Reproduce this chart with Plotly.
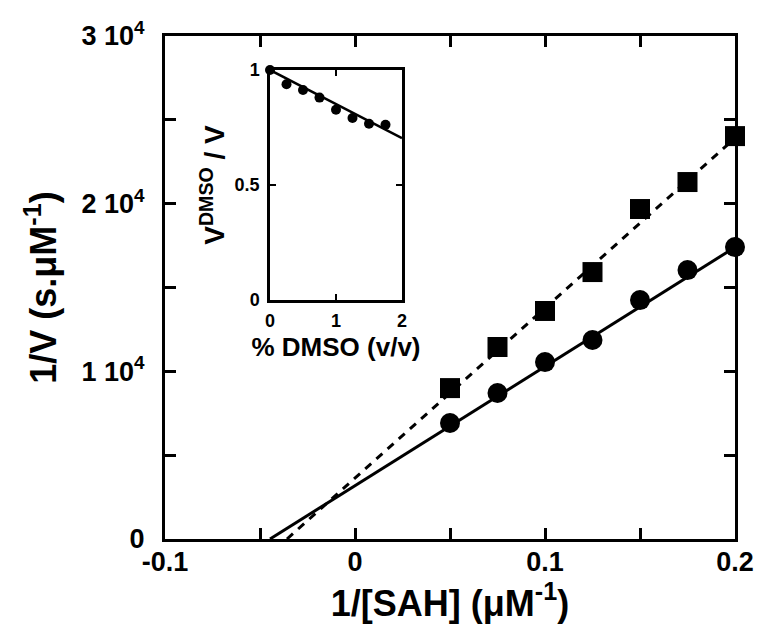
import plotly.graph_objects as go

# ---- data ----
inv_sah = [0.05, 0.075, 0.1, 0.125, 0.15, 0.175, 0.2]
inv_v_circle = [6920, 8710, 10550, 11870, 14250, 16040, 17410]
inv_v_square = [9000, 11450, 13600, 15920, 19680, 21290, 24030]
solid_fit = [71100, 3180]     # slope, intercept (circles)
dashed_fit = [101400, 3630]   # slope, intercept (squares)

dmso_pct = [0, 0.25, 0.5, 0.75, 1.0, 1.25, 1.5, 1.75]
v_ratio = [1.0, 0.938, 0.913, 0.880, 0.827, 0.791, 0.766, 0.762]
inset_fit = [-0.148, 1.0]     # slope, intercept

x_ticks = [-0.1, -0.05, 0, 0.05, 0.1, 0.15, 0.2]
x_ticktext = ["-0.1", "", "0", "", "0.1", "", "0.2"]
y_ticks = [0, 5000, 10000, 15000, 20000, 25000, 30000]
y_ticktext = ["0", "", "1 10<sup>4</sup>", "", "2 10<sup>4</sup>", "", "3 10<sup>4</sup>"]
inset_x_ticks = [0, 1, 2]
inset_x_ticktext = ["0", "1", "2"]
inset_y_ticks = [0, 0.5, 1]
inset_y_ticktext = ["0", "0.5", "1"]

FONT = "Liberation Sans, Arial, sans-serif"
X_RANGE = [-0.1, 0.2]
Y_RANGE = [0, 30000]
INSET_X_RANGE = [0, 2]
INSET_Y_RANGE = [0, 1]


def fit_line(fit, x_end, x_start=None):
    m, b = fit
    xs = -b / m if x_start is None else x_start
    return [xs, x_end], [m * xs + b, m * x_end + b]


fig = go.Figure()

lx, ly = fit_line(solid_fit, X_RANGE[1])
fig.add_trace(go.Scatter(x=lx, y=ly, mode="lines",
                         line=dict(color="black", width=3), showlegend=False))
lx, ly = fit_line(dashed_fit, X_RANGE[1])
fig.add_trace(go.Scatter(x=lx, y=ly, mode="lines",
                         line=dict(color="black", width=3, dash="8px,7px"),
                         showlegend=False))
fig.add_trace(go.Scatter(x=inv_sah, y=inv_v_circle, mode="markers",
                         marker=dict(symbol="circle", size=20, color="black"),
                         cliponaxis=False, showlegend=False))
fig.add_trace(go.Scatter(x=inv_sah, y=inv_v_square, mode="markers",
                         marker=dict(symbol="square", size=20, color="black"),
                         cliponaxis=False, showlegend=False))

# inset
ix, iy = fit_line(inset_fit, INSET_X_RANGE[1], x_start=INSET_X_RANGE[0])
fig.add_trace(go.Scatter(x=ix, y=iy, mode="lines", xaxis="x2", yaxis="y2",
                         line=dict(color="black", width=2.5), showlegend=False))
fig.add_trace(go.Scatter(x=dmso_pct, y=v_ratio, mode="markers", xaxis="x2", yaxis="y2",
                         marker=dict(symbol="circle", size=10, color="black"),
                         cliponaxis=False, showlegend=False))

tick_font = dict(family=FONT, size=27, color="black", weight="bold")
inset_tick_font = dict(family=FONT, size=18, color="black", weight="bold")
title_font = dict(family=FONT, size=36, color="black", weight="bold")

main_common = dict(showgrid=False, zeroline=False, showline=True, linecolor="black",
                   linewidth=3, ticks="inside", ticklen=11, tickwidth=2.5,
                   tickcolor="black", automargin=False)
inset_common = dict(showgrid=False, zeroline=False, showline=True, linecolor="black",
                    linewidth=2.5, ticks="inside", ticklen=6, tickwidth=2,
                    tickcolor="black", automargin=False)

INSET_XDOM = [(270 - 165) / 570, (402 - 165) / 570]
INSET_YDOM = [(539 - 300) / 503, (539 - 70) / 503]

fig.update_layout(
    width=759, height=631,
    margin=dict(l=165, r=24, t=36, b=92),
    paper_bgcolor="white", plot_bgcolor="white",
    font=dict(family=FONT, color="black", weight="bold"),
    xaxis=dict(
        range=X_RANGE, tickmode="array", tickvals=x_ticks, ticktext=x_ticktext,
        tickfont=tick_font, ticklabelstandoff=-3,
        title=dict(text="1/[SAH] (μM<sup>-1</sup>)", standoff=6, font=title_font),
        **main_common,
    ),
    yaxis=dict(
        range=Y_RANGE, tickmode="array", tickvals=y_ticks, ticktext=y_ticktext,
        tickfont=tick_font, ticklabelstandoff=12,
        title=dict(text="1/V (s.μM<sup>-1</sup>)", standoff=14, font=title_font),
        **main_common,
    ),
    xaxis3=dict(range=X_RANGE, tickmode="array", tickvals=x_ticks,
                overlaying="x", side="top", anchor="y", showticklabels=False,
                **main_common),
    yaxis3=dict(range=Y_RANGE, tickmode="array", tickvals=y_ticks,
                overlaying="y", side="right", anchor="x", showticklabels=False,
                **main_common),
    xaxis2=dict(
        domain=INSET_XDOM, anchor="y2",
        range=INSET_X_RANGE, tickmode="array", tickvals=inset_x_ticks,
        ticktext=inset_x_ticktext, tickfont=inset_tick_font, ticklabelstandoff=3,
        title=dict(text="% DMSO (v/v)", standoff=8,
                   font=dict(family=FONT, size=26, color="black", weight="bold")),
        **inset_common,
    ),
    yaxis2=dict(
        domain=INSET_YDOM, anchor="x2",
        range=INSET_Y_RANGE, tickmode="array", tickvals=inset_y_ticks,
        ticktext=inset_y_ticktext, tickfont=inset_tick_font, ticklabelstandoff=4,
        title=dict(text="V<sup>DMSO</sup> / V", standoff=2,
                   font=dict(family=FONT, size=28, color="black", weight="bold")),
        **inset_common,
    ),
    xaxis4=dict(domain=INSET_XDOM, range=INSET_X_RANGE, tickmode="array",
                tickvals=inset_x_ticks, overlaying="x2", side="top", anchor="y2",
                showticklabels=False, **inset_common),
    yaxis4=dict(domain=INSET_YDOM, range=INSET_Y_RANGE, tickmode="array",
                tickvals=inset_y_ticks, overlaying="y2", side="right", anchor="x2",
                showticklabels=False, **inset_common),
)

# invisible anchor traces so the mirrored axes are drawn
fig.add_trace(go.Scatter(x=[None], y=[None], xaxis="x3", yaxis="y3",
                         showlegend=False, hoverinfo="skip"))
fig.add_trace(go.Scatter(x=[None], y=[None], xaxis="x4", yaxis="y4",
                         showlegend=False, hoverinfo="skip"))

fig.write_html("out.html", config={"displayModeBar": False},
               post_script="document.body.style.margin='0';document.body.style.padding='0';")
